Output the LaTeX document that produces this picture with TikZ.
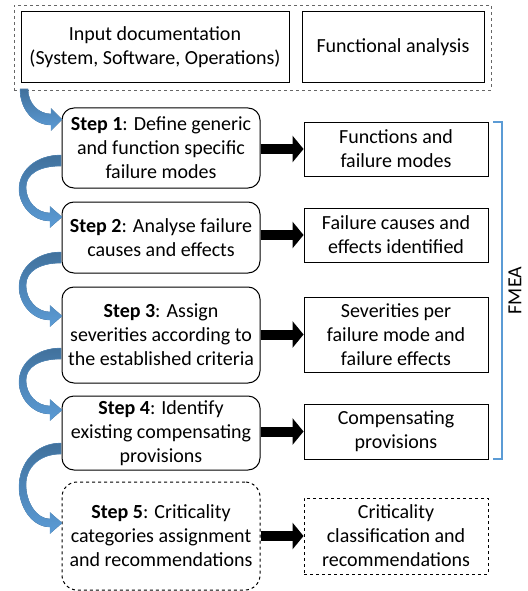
\documentclass[tikz,border=0pt]{standalone}
\usepackage{fontspec}
\setmainfont{Carlito}
\usetikzlibrary{arrows.meta,fit,positioning}

\definecolor{curvedark}{HTML}{41719C}
\definecolor{curvelight}{HTML}{5B9BD5}
\definecolor{bracecol}{HTML}{5B9BD5}

\tikzset{
  docbox/.style={draw, line width=1pt, align=center, minimum height=71pt, inner sep=2pt},
  stepbox/.style={draw, line width=1pt, rounded corners=12pt, align=center, minimum width=198pt, inner sep=2pt},
  resultbox/.style={draw, line width=0.9pt, align=center, minimum width=184pt, inner sep=2pt},
  fatarrow/.style={line width=10pt, -{Triangle[length=11pt,width=26pt]}},
  curvearrow/.style={top color=curvedark, bottom color=curvelight, draw=curvelight, line width=0.3pt},
}

% 弯箭头: #1 = 箭身离开方框处的上沿, #2 = 箭尖的高度
\newcommand{\flowcurve}[2]{%
  \pgfmathsetmacro\hgt{#2-#1}
  \fill[curvearrow] (61,#1) .. controls (36,#1) and (19,{#1+0.25*\hgt}) .. (19,{#1+0.55*\hgt})
    .. controls (19,{#1+0.8*\hgt}) and (32,{#2+4}) .. (50,{#2+4})
    -- (50,{#2+10.5}) -- (62,#2) -- (50,{#2-10.5}) -- (50,{#2-4})
    .. controls (37,{#2-4}) and (26,{#1+0.75*\hgt}) .. (26,{#1+0.52*\hgt})
    .. controls (26,{#1+0.3*\hgt}) and (40,{#1+11}) .. (61,{#1+11}) -- cycle;
}

\begin{document}
\begin{tikzpicture}[x=1pt, y=-1pt, every node/.style={font=\fontsize{20}{24}\selectfont}]
  \useasboundingbox (0,0) rectangle (527,591);

  % ================= 输入资料 =================
  \node[docbox, minimum width=268pt] (inp) at (155,47.5) {Input documentation\\(System, Software, Operations)};
  \node[docbox, minimum width=182pt] (fun) at (393,47.5) {Functional analysis};
  \node[draw=gray!80!black, dashed, line width=0.9pt, fit=(inp)(fun), inner sep=6.5pt] (inputs) {};

  % ================= 左列: 分析步骤 =================
  \node[stepbox, minimum height=80pt] (s1) at (161,148) {\textbf{Step 1}: Define generic\\and function specific\\failure modes};
  \node[stepbox, minimum height=71pt] (s2) at (161,237.5) {\textbf{Step 2}: Analyse failure\\causes and effects};
  \node[stepbox, minimum height=96pt] (s3) at (161,335) {\textbf{Step 3}: Assign\\severities according to\\the established criteria};
  \node[stepbox, minimum height=74pt] (s4) at (161,433) {\textbf{Step 4}: Identify\\existing compensating\\provisions};
  \node[stepbox, dashed, rounded corners=15pt, minimum height=108pt] (s5) at (161,536) {\textbf{Step 5}: Criticality\\categories assignment\\and recommendations};

  % ================= 右列: 各步结果 =================
  \node[resultbox, minimum height=54pt] (r1) at (396,149) {Functions and\\failure modes};
  \node[resultbox, minimum height=54pt] (r2) at (396,235) {Failure causes and\\effects identified};
  \node[resultbox, minimum height=75pt] (r3) at (396,334.5) {Severities per\\failure mode and\\failure effects};
  \node[resultbox, minimum height=55pt] (r4) at (396,431.5) {Compensating\\provisions};
  \node[resultbox, dashed, minimum height=76pt] (r5) at (396,536) {Criticality\\classification and\\recommendations};

  % 粗黑箭头
  \foreach \i in {1,...,5}
    \draw[fatarrow] (s\i.east |- r\i.west) -- (r\i.west);

  % 蓝色弯箭头
  \fill[curvearrow] (20,89) .. controls (20,110) and (34,125) .. (51,125) -- (51,130.5) -- (62,119.5)
    -- (51,108.5) -- (51,114) .. controls (39,114) and (28,104) .. (28,89) -- cycle;
  \flowcurve{155}{217}
  \flowcurve{252}{316}
  \flowcurve{348}{410}
  \flowcurve{443}{523}

  % FMEA 括号
  \draw[bracecol, line width=2pt] ([xshift=5pt]r1.north east) -- ++(9,0) |- ([xshift=5pt]r4.south east)
    node[pos=0.25, rotate=90, anchor=north, inner sep=5pt, text=black] {FMEA};

\end{tikzpicture}
\end{document}
